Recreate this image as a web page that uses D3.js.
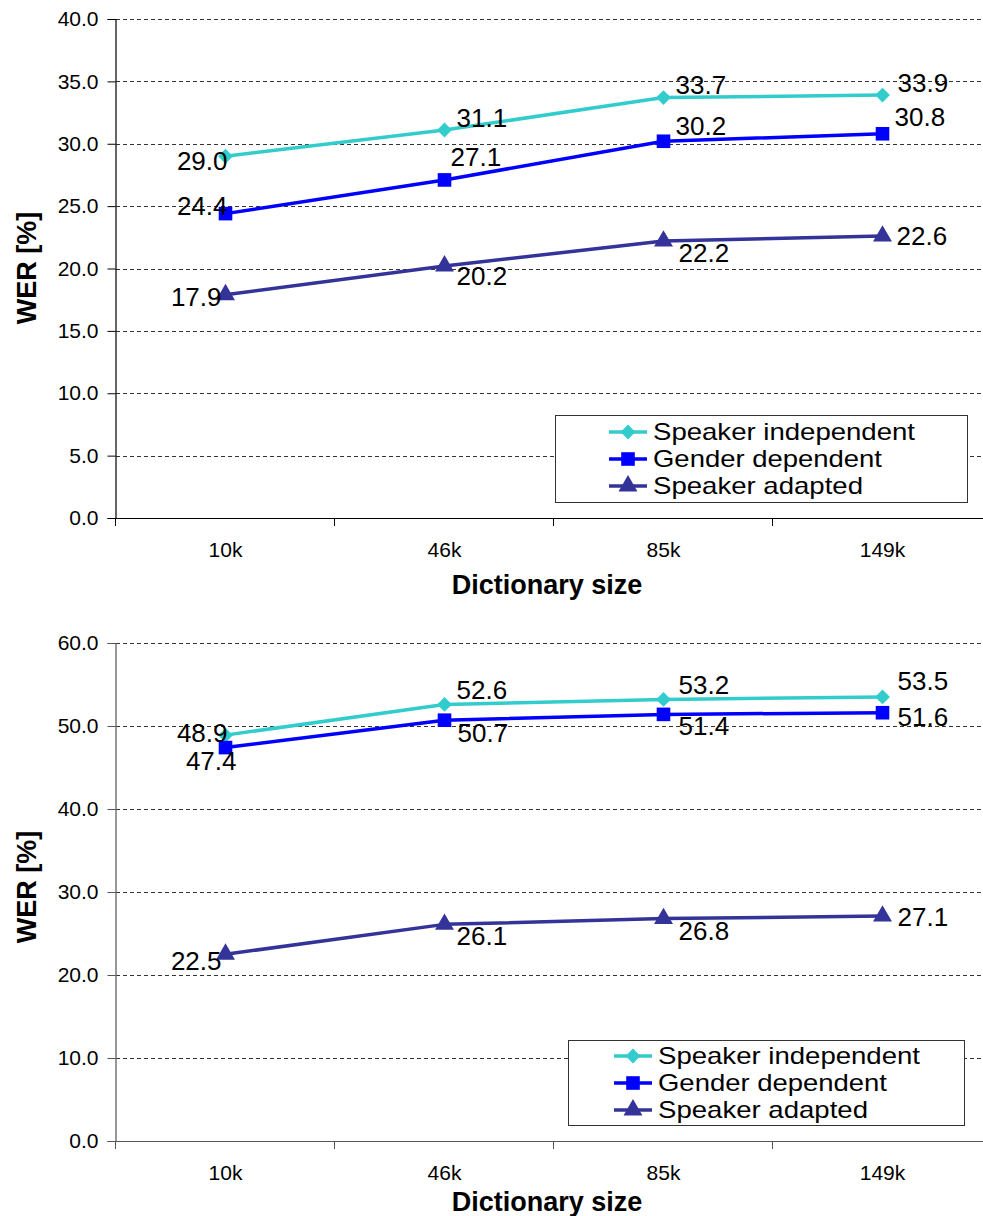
<!DOCTYPE html>
<html>
<head>
<meta charset="utf-8">
<script src="https://cdn.jsdelivr.net/npm/d3@7"></script>
<style>
  html, body { margin: 0; padding: 0; background: #fff; }
  svg { display: block; font-family: "Liberation Sans", Arial, Helvetica, sans-serif; }
</style>
</head>
<body>
<svg id="chart" width="983" height="1216"></svg>
<script>
// Dictionary sizes on the x axis
const categories = ["10k", "46k", "85k", "149k"];
const seriesNames = ["Speaker independent", "Gender dependent", "Speaker adapted"];

// Upper panel: WER [%]
const topSpeakerIndependent = [29.0, 31.1, 33.7, 33.9];
const topGenderDependent    = [24.4, 27.1, 30.2, 30.8];
const topSpeakerAdapted     = [17.9, 20.2, 22.2, 22.6];
const topTicks = [0, 5, 10, 15, 20, 25, 30, 35, 40];

// Lower panel: WER [%]
const bottomSpeakerIndependent = [48.9, 52.6, 53.2, 53.5];
const bottomGenderDependent    = [47.4, 50.7, 51.4, 51.6];
const bottomSpeakerAdapted     = [22.5, 26.1, 26.8, 27.1];
const bottomTicks = [0, 10, 20, 30, 40, 50, 60];

// Value-label placement relative to each point: [anchor, dx, dy]
const topLabelPlacement = [
  [["end", 2, 5], ["start", 12, -12], ["start", 12, -13], ["start", 15, -12]],
  [["end", 2, -8], ["start", 6, -23], ["start", 12, -15], ["start", 12, -17]],
  [["end", -4, 2], ["start", 12, 10], ["start", 15, 12], ["start", 14, 0]]
];
const bottomLabelPlacement = [
  [["end", 2, -2], ["start", 12, -15], ["start", 15, -15], ["start", 15, -16]],
  [["end", 11, 13], ["start", 13, 13], ["start", 15, 12], ["start", 15, 4]],
  [["end", -4, 7], ["start", 12, 12], ["start", 15, 12], ["start", 15, 1]]
];

const colors = ["#33CCCC", "#0000FF", "#333399"];
const symbols = [d3.symbolDiamond2, d3.symbolSquare, d3.symbolTriangle];
const symbolSizes = [140, 185, 155];

const svg = d3.select("#chart");

function drawPanel(opt) {
  const g = svg.append("g");
  const x = d3.scaleBand().domain(categories).range([opt.left, opt.left + 219 * categories.length]).padding(0);
  const y = d3.scaleLinear().domain([0, opt.max]).range([opt.bottom, opt.top]);
  const cx = c => x(c) + x.bandwidth() / 2;

  // dashed gridlines
  g.append("g")
    .selectAll("line")
    .data(opt.ticks.filter(t => t > 0))
    .join("line")
    .attr("x1", opt.left).attr("x2", 983)
    .attr("y1", d => Math.round(y(d)) + 0.5).attr("y2", d => Math.round(y(d)) + 0.5)
    .attr("stroke", "#333").attr("stroke-width", 1).attr("stroke-dasharray", "4,3");

  // y axis
  const yAxis = g.append("g")
    .attr("transform", `translate(${opt.left - 0.5},0)`)
    .call(d3.axisLeft(y).tickValues(opt.ticks).tickFormat(d3.format(".1f")).tickSize(8).tickPadding(9));
  yAxis.select(".domain").attr("stroke", opt.axisColor).attr("stroke-width", 1.2);
  yAxis.selectAll(".tick line").attr("stroke", opt.axisColor);
  yAxis.selectAll(".tick text").attr("font-size", 21).attr("fill", "#000")
    .attr("font-family", "'Liberation Sans', Arial, sans-serif");

  // x axis line with ticks at category boundaries
  g.append("line")
    .attr("x1", opt.left).attr("x2", 983)
    .attr("y1", opt.bottom + 0.5).attr("y2", opt.bottom + 0.5)
    .attr("stroke", opt.axisColor).attr("stroke-width", 1.2);
  g.append("g").selectAll("line")
    .data(categories)
    .join("line")
    .attr("x1", d => x(d) - 0.5).attr("x2", d => x(d) - 0.5)
    .attr("y1", opt.bottom).attr("y2", opt.bottom + 8)
    .attr("stroke", opt.axisColor).attr("stroke-width", 1);

  // category labels
  g.append("g").selectAll("text")
    .data(categories)
    .join("text")
    .attr("x", d => cx(d))
    .attr("y", opt.bottom + opt.catOffset)
    .attr("dy", "0.35em")
    .attr("text-anchor", "middle")
    .attr("font-size", 21)
    .text(d => d);

  // axis titles
  g.append("text")
    .attr("x", 547).attr("y", opt.bottom + opt.titleOffset)
    .attr("dy", "0.35em")
    .attr("text-anchor", "middle")
    .attr("font-size", 27).attr("font-weight", "bold")
    .text("Dictionary size");
  g.append("text")
    .attr("transform", `translate(27,${opt.yTitleY}) rotate(-90)`)
    .attr("dy", "0.35em")
    .attr("text-anchor", "middle")
    .attr("font-size", 27).attr("font-weight", "bold")
    .text("WER [%]");

  // series lines, markers and value labels
  const line = d3.line().x((d, i) => cx(categories[i])).y(d => y(d));
  opt.series.forEach((vals, s) => {
    g.append("path")
      .datum(vals)
      .attr("d", line)
      .attr("fill", "none")
      .attr("stroke", colors[s])
      .attr("stroke-width", 3.5)
      .attr("stroke-linejoin", "round");
  });
  opt.series.forEach((vals, s) => {
    g.append("g").selectAll("path")
      .data(vals)
      .join("path")
      .attr("transform", (d, i) => `translate(${cx(categories[i])},${y(d)})`)
      .attr("d", d3.symbol(symbols[s], symbolSizes[s]))
      .attr("fill", colors[s]);
  });
  opt.series.forEach((vals, s) => {
    g.append("g").selectAll("text")
      .data(vals)
      .join("text")
      .attr("x", (d, i) => cx(categories[i]) + opt.placement[s][i][1])
      .attr("y", (d, i) => y(d) + opt.placement[s][i][2])
      .attr("dy", "0.35em")
      .attr("text-anchor", (d, i) => opt.placement[s][i][0])
      .attr("font-size", 26)
      .attr("fill", "#000")
      .text(d => d3.format(".1f")(d));
  });

  // legend
  const L = opt.legend;
  const lg = g.append("g");
  lg.append("rect")
    .attr("x", L.x + 0.5).attr("y", L.y + 0.5)
    .attr("width", L.w).attr("height", L.h)
    .attr("fill", "#fff").attr("stroke", "#333").attr("stroke-width", 1);
  seriesNames.forEach((name, s) => {
    const ry = L.rowY + s * L.rowGap;
    lg.append("line")
      .attr("x1", L.lineX).attr("x2", L.lineX + 38)
      .attr("y1", ry).attr("y2", ry)
      .attr("stroke", colors[s]).attr("stroke-width", 3.5);
    lg.append("path")
      .attr("transform", `translate(${L.lineX + 19},${ry})`)
      .attr("d", d3.symbol(symbols[s], symbolSizes[s]))
      .attr("fill", colors[s]);
    lg.append("text")
      .attr("x", L.lineX + 44).attr("y", ry)
      .attr("dy", "0.35em")
      .attr("font-size", 24)
      .attr("textLength", L.textWidths[s])
      .attr("lengthAdjust", "spacingAndGlyphs")
      .text(name);
  });
}

drawPanel({
  left: 116, top: 19, bottom: 518, max: 40,
  ticks: topTicks, axisColor: "#000",
  catOffset: 32, titleOffset: 67, yTitleY: 268,
  series: [topSpeakerIndependent, topGenderDependent, topSpeakerAdapted],
  placement: topLabelPlacement,
  legend: { x: 555, y: 415, w: 412, h: 87, lineX: 609, rowY: 432, rowGap: 27,
            textWidths: [262, 229, 210] }
});

drawPanel({
  left: 116, top: 643, bottom: 1141, max: 60,
  ticks: bottomTicks, axisColor: "#555",
  catOffset: 32, titleOffset: 61, yTitleY: 887,
  series: [bottomSpeakerIndependent, bottomGenderDependent, bottomSpeakerAdapted],
  placement: bottomLabelPlacement,
  legend: { x: 568, y: 1040, w: 396, h: 85, lineX: 614, rowY: 1056, rowGap: 27,
            textWidths: [262, 229, 210] }
});
</script>
</body>
</html>
